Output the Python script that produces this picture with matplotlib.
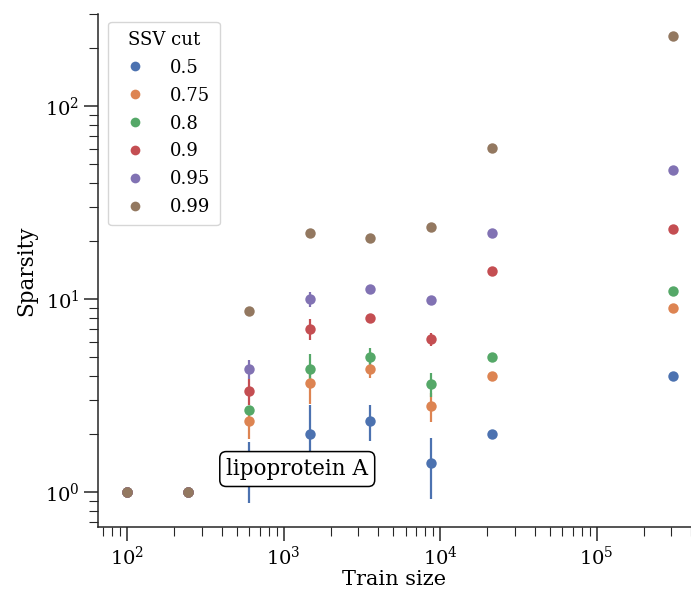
import matplotlib
matplotlib.use("Agg")
import matplotlib.pyplot as plt
from matplotlib.lines import Line2D
import numpy as np

plt.rcParams['font.family'] = 'DejaVu Serif'
plt.rcParams['mathtext.fontset'] = 'dejavuserif'

# train sizes
train_size = [100, 245, 600, 1470, 3550, 8700, 21500, 305000]

cuts = ["0.5", "0.75", "0.8", "0.9", "0.95", "0.99"]
colors = ["#4C72B0", "#DD8452", "#55A868", "#C44E52", "#8172B3", "#937860"]

# mean sparsity for each cut
sp_050 = [1, 1, 1.35, 2.0, 2.33, 1.41, 2.0, 4.0]
sp_075 = [1, 1, 2.33, 3.67, 4.34, 2.79, 4.0, 8.98]
sp_080 = [1, 1, 2.66, 4.34, 5.0, 3.63, 5.0, 11.0]
sp_090 = [1, 1, 3.34, 7.0, 7.97, 6.2, 14.0, 23.0]
sp_095 = [1, 1, 4.34, 10.0, 11.3, 9.9, 22.0, 46.6]
sp_099 = [1, 1, 8.67, 22.0, 20.7, 23.6, 60.6, 230.0]

# error (same in both directions, linear units)
err_050 = [0, 0, 0.47, 0.82, 0.49, 0.49, 0, 0]
err_075 = [0, 0, 0.45, 0.8, 0.44, 0.49, 0, 0]
err_080 = [0, 0, 0.15, 0.85, 0.55, 0.5, 0, 0]
err_090 = [0, 0, 0.5, 0.85, 0.2, 0.5, 0, 0]
err_095 = [0, 0, 0.48, 0.85, 0, 0.1, 0, 0]
err_099 = [0, 0, 0, 0, 0, 0, 0, 0]

means = [sp_050, sp_075, sp_080, sp_090, sp_095, sp_099]
errs = [err_050, err_075, err_080, err_090, err_095, err_099]

fig = plt.figure(figsize=(6.91, 5.93), dpi=100)
ax = fig.add_axes([98/691, 66/593, 593/691, 513/593])

for m, e, c in zip(means, errs, colors):
    ax.errorbar(train_size, m, yerr=e, fmt='o', color=c, ms=7.5, elinewidth=1.6,
                capsize=0, mew=0)

ax.set_xscale('log')
ax.set_yscale('log')
ax.set_xlim(65, 4e5)
ax.set_ylim(0.66, 300)

ax.spines['right'].set_color('none')
ax.spines['top'].set_color('none')
for s in ('left', 'bottom'):
    ax.spines[s].set_color('#262626')
    ax.spines[s].set_linewidth(1.1)
ax.tick_params(which='major', length=10, width=1.1, color='#262626', labelsize=14)
ax.tick_params(which='minor', length=6.5, width=0.8, color='#262626')

ax.set_xlabel('Train size', fontsize=15, labelpad=1)
ax.set_ylabel('Sparsity', fontsize=15.5, labelpad=5)

handles = [Line2D([], [], marker='o', ls='', color=c, ms=7, mew=0) for c in colors]
leg = ax.legend(handles, cuts, title='SSV cut', loc='upper left',
                bbox_to_anchor=(0.017, 0.985), borderaxespad=0,
                fontsize=13, title_fontsize=13,
                handletextpad=0.95, labelspacing=0.55, borderpad=0.5)
leg.get_frame().set_edgecolor('#cccccc')

ax.text(0.336, 0.113, 'lipoprotein A', transform=ax.transAxes, fontsize=15.5,
        ha='center', va='center',
        bbox=dict(boxstyle='round,pad=0.3', fc='white', ec='black', lw=1.1))

fig.savefig('out.png', dpi=100)
